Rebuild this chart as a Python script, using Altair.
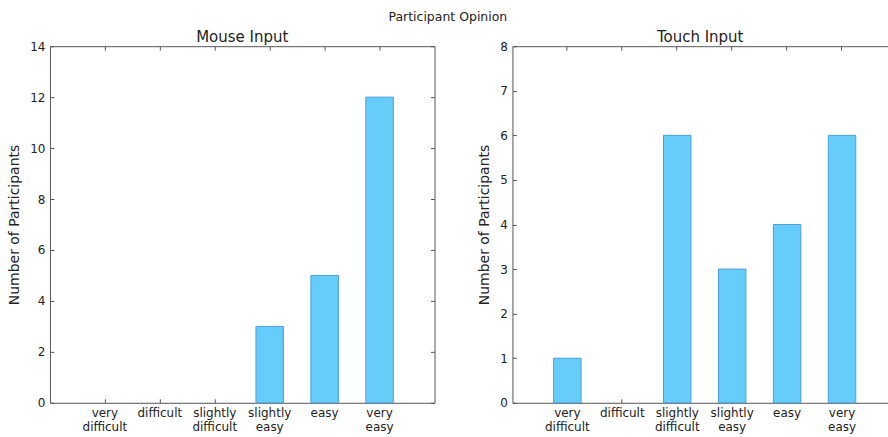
import altair as alt
import pandas as pd

categories = ["very difficult", "difficult", "slightly difficult", "slightly easy", "easy", "very easy"]
mouse_counts = [0, 0, 0, 3, 5, 12]
touch_counts = [1, 0, 6, 3, 4, 6]
mouse_ticks = [0, 2, 4, 6, 8, 10, 12, 14]
touch_ticks = [0, 1, 2, 3, 4, 5, 6, 7, 8]

FILL = "#66ccf9"
EDGE = "#4a9fd8"
FRAME = "#555555"
TEXT = "#222222"
FONT = "DejaVu Sans"
TICK = {"expr": "-4"}


def panel(counts, ticks, title, width, pad_outer, align, right_axis):
    df = pd.DataFrame({"opinion": categories, "count": counts})
    xscale = alt.Scale(domain=categories, paddingInner=0.5, paddingOuter=pad_outer,
                       align=align, round=False)
    yscale = alt.Scale(domain=[ticks[0], ticks[-1]], nice=False, zero=True)
    base = alt.Chart(df)
    bars = base.mark_bar(fill=FILL, stroke=EDGE, strokeWidth=1).encode(
        x=alt.X("opinion:N", sort=categories, scale=xscale,
                axis=alt.Axis(orient="bottom", title=None, labelAngle=0,
                              labelExpr="split(datum.label, ' ')",
                              labelFontSize=12, labelColor=TEXT, labelFont=FONT,
                              labelLineHeight=14, labelPadding=9,
                              tickSize=TICK, tickColor=FRAME, domain=False, grid=False)),
        y=alt.Y("count:Q", scale=yscale,
                axis=alt.Axis(orient="left", title="Number of Participants", values=ticks,
                              titleFont=FONT, titleFontSize=14, titleFontWeight="normal",
                              titleColor=TEXT, titlePadding=8,
                              labelFontSize=12, labelColor=TEXT, labelFont=FONT,
                              labelPadding=9, tickSize=TICK, tickColor=FRAME,
                              domain=False, grid=False)),
    ).transform_filter("datum.count > 0")
    if right_axis:
        yaxis2 = alt.Axis(orient="right", title=None, labels=False, values=ticks,
                          tickSize=TICK, tickColor=FRAME, domain=False, grid=False)
    else:
        yaxis2 = None
    frame = base.mark_bar(opacity=0).encode(
        x=alt.X("opinion:N", sort=categories, scale=xscale,
                axis=alt.Axis(orient="top", title=None, labels=False,
                              tickSize=TICK, tickColor=FRAME, domain=False, grid=False)),
        y=alt.Y("count:Q", scale=yscale, axis=yaxis2),
    )
    return alt.layer(bars, frame).resolve_axis(x="independent", y="independent").properties(
        width=width, height=357,
        title=alt.TitleParams(title, font=FONT, fontSize=15, fontWeight="normal",
                              color=TEXT, offset=-5),
    )


chart = alt.hconcat(
    panel(mouse_counts, mouse_ticks, "Mouse Input", 385, 0.75, 0.5, True),
    panel(touch_counts, touch_ticks, "Touch Input", 376, 0.6682, 0.5612, False),
    spacing=41,
).properties(
    title=alt.TitleParams("Participant Opinion", font=FONT, fontSize=12.5, fontWeight="normal",
                          color=TEXT, anchor="middle", offset=6.5),
    padding={"left": 7, "top": 10, "right": -1, "bottom": 0},
    background="white",
).configure_view(stroke=FRAME, strokeWidth=1)

chart.save("out.html", embed_options={"renderer": "svg", "actions": False})
